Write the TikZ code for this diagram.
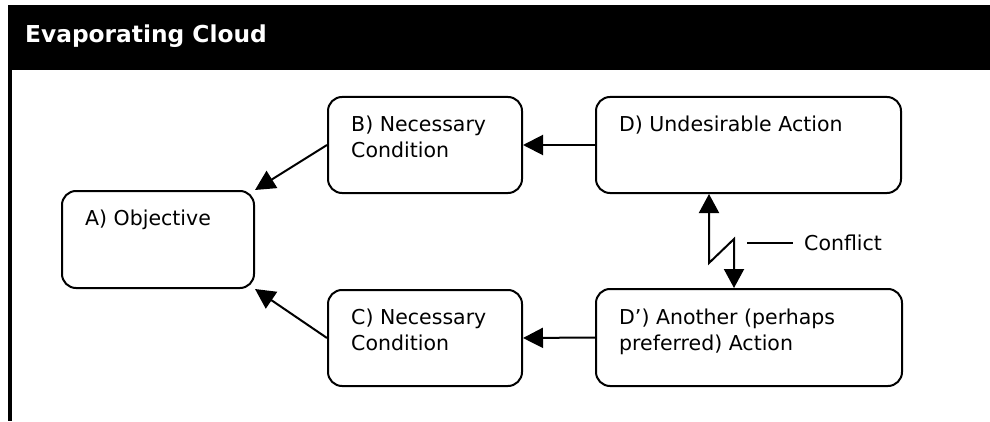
\documentclass[tikz,border=0pt]{standalone}
\usepackage{fontspec}
\setmainfont{DejaVu Sans}
\usetikzlibrary{arrows.meta}

\begin{document}
\begin{tikzpicture}[x=1pt,y=1pt,
        cloudbox/.style={draw,line width=2pt,rounded corners=14pt,inner sep=0pt},
        boxtext/.style={anchor=north west,inner sep=0pt,align=left,font=\fontsize{20.5}{26}\selectfont},
        cloudarrow/.style={line width=2pt,-{Triangle[length=20pt,width=20pt]}}]
        \useasboundingbox (0,0) rectangle (990,421);
        % header bar and left rule
        \fill (8,351) rectangle (990,416);
        \node[anchor=base west,inner sep=0pt,text=white,font=\bfseries\fontsize{23.3}{28}\selectfont] (title) at (25,378) {Evaporating Cloud};
        \draw[line width=4pt] (10,351) -- (10,0);
        % the five boxes
        \node[cloudbox,minimum width=192pt,minimum height=97pt] (a) at (158,181.5) {};
        \node[cloudbox,minimum width=194pt,minimum height=96pt] (b) at (425,276) {};
        \node[cloudbox,minimum width=194pt,minimum height=96pt] (c) at (425,83) {};
        \node[cloudbox,minimum width=305pt,minimum height=96pt] (d) at (748.5,276) {};
        \node[cloudbox,minimum width=306pt,minimum height=97pt] (dp) at (749,83.5) {};
        \node[boxtext] (atext) at ([shift={(24,-20)}]a.north west) {A) Objective};
        \node[boxtext] (btext) at ([shift={(24,-20)}]b.north west) {B) Necessary\\Condition};
        \node[boxtext] (ctext) at ([shift={(24,-20)}]c.north west) {C) Necessary\\Condition};
        \node[boxtext] (dtext) at ([shift={(24,-20)}]d.north west) {D) Undesirable Action};
        \node[boxtext] (dptext) at ([shift={(24,-21)}]dp.north west) {D’) Another (perhaps\\preferred) Action};
        % arrows
        \draw[cloudarrow] (b.west) -- (a.north east);
        \draw[cloudarrow] (c.west) -- (a.south east);
        \draw[cloudarrow] (d.west) -- (b.east);
        \draw[cloudarrow] (dp.west) -- (c.east);
        % conflict
        \coordinate (k1) at (709,158);
        \coordinate (k2) at (734,182);
        \draw[line width=2pt,{Triangle[length=19pt,width=20pt]}-{Triangle[length=19pt,width=20pt]}]
            (k1 |- d.south) -- (k1) -- (k2) -- (k2 |- dp.north);
        \node[anchor=west,inner sep=0pt,font=\fontsize{20.5}{26}\selectfont] (cf) at (804,178) {Conflict};
        \coordinate (cl) at ([xshift=-57pt]cf.west);
        \draw[line width=1.5pt] (cl) -- ([xshift=-11pt]cf.west);
    \end{tikzpicture}
\end{document}
